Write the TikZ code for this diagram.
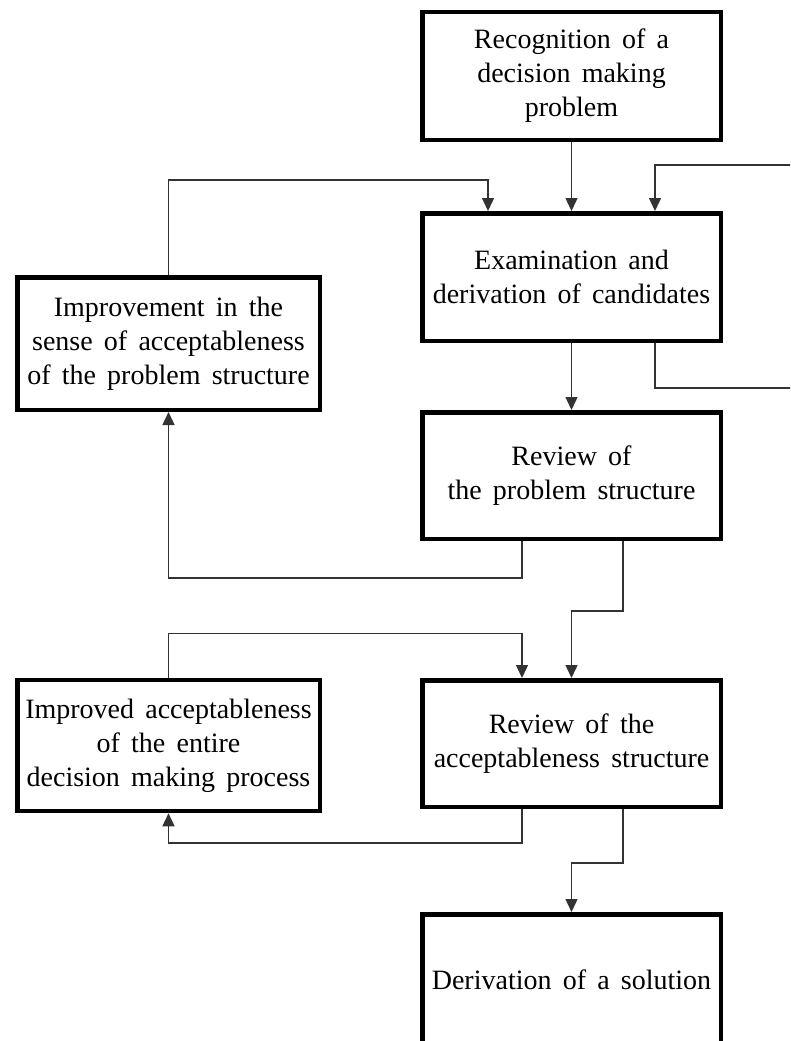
\documentclass[tikz,border=0pt]{standalone}
\usepackage{fontspec}
\setmainfont{Liberation Serif}[WordSpace=1.6]
\usetikzlibrary{arrows.meta}

\begin{document}
\begin{tikzpicture}[
  x=1pt, y=-1pt,
  box/.style={draw, line width=4.5pt, minimum width=298.5pt, minimum height=127.5pt, align=center, font=\fontsize{28}{34}\selectfont},
  sidebox/.style={box, minimum width=302.5pt, minimum height=131pt},
  arr/.style={-{Triangle[length=13pt,width=12pt]}, line width=1.4pt, black!80}
]
\path[use as bounding box, clip] (0,0) rectangle (790,1041);

\node[box] (recog) at (571.5,76) {Recognition of a\\decision making\\problem};
\node[box] (exam) at (571.5,277) {Examination and\\derivation of candidates};
\node[box, minimum height=126.5pt] (review1) at (571.5,475.5) {Review of\\the problem structure};
\node[box, minimum height=126.5pt] (review2) at (571.5,743.5) {Review of the\\acceptableness structure};
\node[box, minimum height=131.5pt] (deriv) at (571.5,980) {Derivation of a solution};
\node[sidebox, minimum height=132.5pt] (improv1) at (168.5,343.5) {Improvement in the\\sense of acceptableness\\of the problem structure};
\node[sidebox] (improv2) at (168.5,745.5) {Improved acceptableness\\of the entire\\decision making process};

\draw[arr] (recog) -- (exam);
\draw[arr] (improv1.north) -- ++(0,-95) -| ([xshift=-83.5pt]exam.north);
\draw[arr] ([xshift=83.5pt]exam.south) -- ++(0,45) -- ++(145,0) -- ++(0,-223) -| ([xshift=83.5pt]exam.north);
\draw[arr] (exam) -- (review1);
\draw[arr] ([xshift=-49.5pt]review1.south) -- ++(0,37) -| (improv1.south);
\draw[arr] ([xshift=51.5pt]review1.south) -- ++(0,70) -| (review2.north);
\draw[arr] (improv2.north) -- ++(0,-44) -| ([xshift=-49.5pt]review2.north);
\draw[arr] ([xshift=-49.5pt]review2.south) -- ++(0,34) -| (improv2.south);
\draw[arr] ([xshift=51.5pt]review2.south) -- ++(0,54) -| (deriv.north);
\end{tikzpicture}
\end{document}
